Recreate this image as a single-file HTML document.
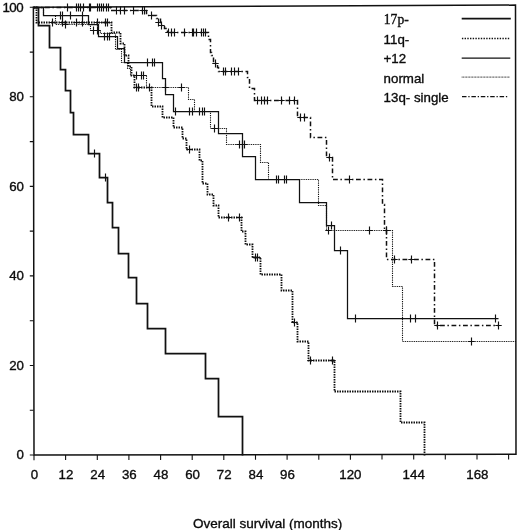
<!DOCTYPE html>
<html lang="en">
<head>
<meta charset="utf-8">
<title>Overall survival</title>
<style>
html,body{margin:0;padding:0;background:#fff;}
body{width:520px;height:530px;overflow:hidden;}
svg{display:block;}
text{font-family:"Liberation Sans",Arial,Helvetica,sans-serif;fill:#0c0c0c;stroke:#0c0c0c;stroke-width:0.35px;}
.ax text{font-size:13.3px;}
.ax text.ttl{font-size:13.5px;}
.lg text{font-size:13.3px;}
.lg text.serif{font-family:"Liberation Serif","Times New Roman",serif;font-size:13.6px;stroke-width:0.35px;}
</style>
</head>
<body>
<svg width="520" height="530" viewBox="0 0 520 530">
<rect x="0" y="0" width="520" height="530" fill="#ffffff"/>
<g fill="none" stroke="#111" stroke-linejoin="miter">
<!-- plot frame -->
<path d="M33.4,7.2 L515.5,5.1 L516,454.3 L34,455 Z" stroke-width="1.5"/>
<path d="M34.0,455.0v5.2M65.6,454.9v5.2M97.3,454.9v5.2M128.9,454.8v5.2M160.6,454.8v5.2M192.2,454.7v5.2M223.8,454.7v5.2M255.5,454.6v5.2M287.1,454.6v5.2M318.8,454.5v5.2M350.4,454.5v5.2M382.0,454.4v5.2M413.7,454.4v5.2M445.3,454.3v5.2M477.0,454.3v5.2M508.6,454.2v5.2" stroke-width="1.1"/>
<path d="M33.6,455.0h-3.8M33.6,410.2h-3.8M33.6,365.5h-3.8M33.6,320.7h-3.8M33.6,275.9h-3.8M33.6,231.1h-3.8M33.6,186.4h-3.8M33.6,141.6h-3.8M33.6,96.8h-3.8M33.6,52.1h-3.8M33.6,7.3h-3.8" stroke-width="1.1"/>
<!-- normal -->
<path d="M33.5,7.5 L43.5,7.5 L43.5,15.5 L55.5,15.5 L55.5,24.5 L90.5,24.5 L90.5,30.5 L100.5,30.5 L100.5,33.5 L115.5,33.5 L115.5,49.5 L121.5,49.5 L121.5,62.5 L127.5,62.5 L127.5,68.5 L130.5,68.5 L130.5,75.5 L146.5,75.5 L146.5,87.5 L188.5,87.5 L188.5,99.5 L194.5,99.5 L194.5,111.5 L210.5,111.5 L210.5,128.5 L226.5,128.5 L226.5,144.5 L260.5,144.5 L260.5,162.5 L268.5,162.5 L268.5,179.5 L318.5,179.5 L318.5,205.5 L326.5,205.5 L326.5,230.5 L392.5,230.5 L392.5,286.5 L402.5,286.5 L402.5,341.5 L516.5,341.5" stroke-width="1.1" stroke-dasharray="1 0.8" stroke="#111"/>
<path d="M65.5,20.5V28.5M93.5,26.5V34.5M97.5,26.5V34.5M136.5,71.5V79.5M141.5,71.5V79.5M143.5,71.5V79.5M165.5,83.5V91.5M181.5,83.5V91.5M214.5,124.5V132.5M239.5,140.5V148.5M242.5,140.5V148.5M244.5,140.5V148.5M328.5,226.5V234.5M369.5,226.5V234.5M386.5,226.5V234.5M471.5,337.5V345.5M62.3,24.5H68.7M90.3,30.5H96.7M94.3,30.5H100.7M133.3,75.5H139.7M138.3,75.5H144.7M140.3,75.5H146.7M162.3,87.5H168.7M178.3,87.5H184.7M211.3,128.5H217.7M236.3,144.5H242.7M239.3,144.5H245.7M241.3,144.5H247.7M325.3,230.5H331.7M366.3,230.5H372.7M383.3,230.5H389.7M468.3,341.5H474.7" stroke-width="1.15"/>
<!-- 13q- single -->
<path d="M33.5,7.5 L110.5,7.5 L110.5,10.5 L146.5,10.5 L146.5,15.5 L156.5,15.5 L156.5,18.5 L160.5,18.5 L160.5,25.5 L164.5,25.5 L164.5,28.5 L167.5,28.5 L167.5,32.5 L208.5,32.5 L208.5,39.5 L210.5,39.5 L210.5,52.5 L211.5,52.5 L211.5,55.5 L213.5,55.5 L213.5,63.5 L217.5,63.5 L217.5,67.5 L218.5,67.5 L218.5,71.5 L247.5,71.5 L247.5,77.5 L249.5,77.5 L249.5,88.5 L254.5,88.5 L254.5,100.5 L297.5,100.5 L297.5,117.5 L310.5,117.5 L310.5,137.5 L326.5,137.5 L326.5,157.5 L332.5,157.5 L332.5,179.5 L382.5,179.5 L382.5,204.5 L384.5,204.5 L384.5,230.5 L386.5,230.5 L386.5,259.5 L434.5,259.5 L434.5,325.5 L498.5,325.5" stroke-width="1.5" stroke-dasharray="4.8 2.6 1.5 2.6"/>
<path d="M67.5,3.5V11.5M76.5,3.5V11.5M78.5,3.5V11.5M80.5,3.5V11.5M83.5,3.5V11.5M89.5,3.5V11.5M90.5,3.5V11.5M97.5,3.5V11.5M99.5,3.5V11.5M101.5,3.5V11.5M103.5,3.5V11.5M106.5,3.5V11.5M108.5,3.5V11.5M116.5,6.5V14.5M120.5,6.5V14.5M124.5,6.5V14.5M133.5,6.5V14.5M142.5,6.5V14.5M144.5,6.5V14.5M151.5,11.5V19.5M158.5,18.5V26.5M161.5,21.5V29.5M168.5,28.5V36.5M171.5,28.5V36.5M174.5,28.5V36.5M184.5,28.5V36.5M192.5,28.5V36.5M193.5,28.5V36.5M196.5,28.5V36.5M201.5,28.5V36.5M203.5,28.5V36.5M205.5,28.5V36.5M215.5,59.5V67.5M223.5,67.5V75.5M225.5,67.5V75.5M231.5,67.5V75.5M234.5,67.5V75.5M238.5,67.5V75.5M257.5,96.5V104.5M261.5,96.5V104.5M264.5,96.5V104.5M267.5,96.5V104.5M281.5,96.5V104.5M289.5,96.5V104.5M294.5,96.5V104.5M300.5,113.5V121.5M304.5,113.5V121.5M329.5,153.5V161.5M349.5,175.5V183.5M386.5,226.5V234.5M394.5,255.5V263.5M411.5,255.5V263.5M437.5,321.5V329.5M498.5,321.5V329.5M64.3,7.5H70.7M73.3,7.5H79.7M75.3,7.5H81.7M77.3,7.5H83.7M80.3,7.5H86.7M86.3,7.5H92.7M87.3,7.5H93.7M94.3,7.5H100.7M96.3,7.5H102.7M98.3,7.5H104.7M100.3,7.5H106.7M103.3,7.5H109.7M105.3,7.5H111.7M113.3,10.5H119.7M117.3,10.5H123.7M121.3,10.5H127.7M130.3,10.5H136.7M139.3,10.5H145.7M141.3,10.5H147.7M148.3,15.5H154.7M155.3,22.5H161.7M158.3,25.5H164.7M165.3,32.5H171.7M168.3,32.5H174.7M171.3,32.5H177.7M181.3,32.5H187.7M189.3,32.5H195.7M190.3,32.5H196.7M193.3,32.5H199.7M198.3,32.5H204.7M200.3,32.5H206.7M202.3,32.5H208.7M212.3,63.5H218.7M220.3,71.5H226.7M222.3,71.5H228.7M228.3,71.5H234.7M231.3,71.5H237.7M235.3,71.5H241.7M254.3,100.5H260.7M258.3,100.5H264.7M261.3,100.5H267.7M264.3,100.5H270.7M278.3,100.5H284.7M286.3,100.5H292.7M291.3,100.5H297.7M297.3,117.5H303.7M301.3,117.5H307.7M326.3,157.5H332.7M346.3,179.5H352.7M383.3,230.5H389.7M391.3,259.5H397.7M408.3,259.5H414.7M434.3,325.5H440.7M495.3,325.5H501.7" stroke-width="1.15"/>
<!-- +12 -->
<path d="M33.5,7.5 L43.5,7.5 L43.5,15.5 L88.5,15.5 L88.5,24.5 L98.5,24.5 L98.5,36.5 L117.5,36.5 L117.5,48.5 L124.5,48.5 L124.5,62.5 L162.5,62.5 L162.5,78.5 L165.5,78.5 L165.5,94.5 L173.5,94.5 L173.5,111.5 L218.5,111.5 L218.5,133.5 L242.5,133.5 L242.5,156.5 L255.5,156.5 L255.5,179.5 L299.5,179.5 L299.5,202.5 L326.5,202.5 L326.5,225.5 L334.5,225.5 L334.5,250.5 L347.5,250.5 L347.5,318.5 L498.5,318.5" stroke-width="1.25"/>
<path d="M60.5,11.5V19.5M62.5,11.5V19.5M70.5,11.5V19.5M82.5,11.5V19.5M104.5,32.5V40.5M107.5,32.5V40.5M109.5,32.5V40.5M147.5,58.5V66.5M152.5,58.5V66.5M154.5,58.5V66.5M175.5,107.5V115.5M189.5,107.5V115.5M192.5,107.5V115.5M199.5,107.5V115.5M202.5,107.5V115.5M204.5,107.5V115.5M276.5,175.5V183.5M278.5,175.5V183.5M284.5,175.5V183.5M286.5,175.5V183.5M331.5,221.5V229.5M340.5,246.5V254.5M355.5,314.5V322.5M410.5,314.5V322.5M415.5,314.5V322.5M495.5,314.5V322.5" stroke-width="1.15"/>
<!-- 11q- -->
<path d="M33.5,7.5 L36.5,7.5 L36.5,22.5 L111.5,22.5 L111.5,22.5 L111.5,22.5 L111.5,32.5 L120.5,32.5 L120.5,43.5 L124.5,43.5 L124.5,55.5 L128.5,55.5 L128.5,66.5 L131.5,66.5 L131.5,75.5 L134.5,75.5 L134.5,87.5 L151.5,87.5 L151.5,106.5 L162.5,106.5 L162.5,117.5 L173.5,117.5 L173.5,127.5 L182.5,127.5 L182.5,138.5 L186.5,138.5 L186.5,149.5 L199.5,149.5 L199.5,160.5 L202.5,160.5 L202.5,183.5 L207.5,183.5 L207.5,194.5 L213.5,194.5 L213.5,205.5 L218.5,205.5 L218.5,217.5 L241.5,217.5 L241.5,231.5 L245.5,231.5 L245.5,244.5 L252.5,244.5 L252.5,257.5 L260.5,257.5 L260.5,274.5 L281.5,274.5 L281.5,290.5 L292.5,290.5 L292.5,322.5 L297.5,322.5 L297.5,341.5 L308.5,341.5 L308.5,360.5 L334.5,360.5 L334.5,391.5 L400.5,391.5 L400.5,422.5 L424.5,422.5 L424.5,455.5" stroke-width="1.8" stroke-dasharray="1.5 1.0"/>
<path d="M52.5,18.5V26.5M62.5,18.5V26.5M76.5,18.5V26.5M82.5,18.5V26.5M97.5,18.5V26.5M105.5,18.5V26.5M107.5,18.5V26.5M136.5,83.5V91.5M138.5,83.5V91.5M149.5,83.5V91.5M189.5,145.5V153.5M228.5,213.5V221.5M239.5,213.5V221.5M255.5,253.5V261.5M257.5,253.5V261.5M294.5,318.5V326.5M310.5,356.5V364.5M332.5,356.5V364.5M49.3,22.5H55.7M59.3,22.5H65.7M73.3,22.5H79.7M79.3,22.5H85.7M94.3,22.5H100.7M102.3,22.5H108.7M104.3,22.5H110.7M133.3,87.5H139.7M135.3,87.5H141.7M146.3,87.5H152.7M186.3,149.5H192.7M225.3,217.5H231.7M236.3,217.5H242.7M252.3,257.5H258.7M254.3,257.5H260.7M291.3,322.5H297.7M307.3,360.5H313.7M329.3,360.5H335.7" stroke-width="1.15"/>
<!-- 17p- -->
<path d="M33.5,7.5 L38.5,7.5 L38.5,25.5 L49.5,25.5 L49.5,47.5 L60.5,47.5 L60.5,69.5 L65.5,69.5 L65.5,90.5 L70.5,90.5 L70.5,112.5 L73.5,112.5 L73.5,134.5 L88.5,134.5 L88.5,153.5 L99.5,153.5 L99.5,177.5 L107.5,177.5 L107.5,202.5 L112.5,202.5 L112.5,227.5 L118.5,227.5 L118.5,253.5 L128.5,253.5 L128.5,277.5 L136.5,277.5 L136.5,303.5 L147.5,303.5 L147.5,328.5 L165.5,328.5 L165.5,353.5 L205.5,353.5 L205.5,378.5 L218.5,378.5 L218.5,416.5 L242.5,416.5 L242.5,455.5" stroke-width="1.75"/>
<path d="M94.5,149.5V157.5M105.5,173.5V181.5" stroke-width="1.15"/>
<!-- legend lines -->
<path d="M461.7,18.7H510.8" stroke-width="1.7"/>
<path d="M461.9,38.5H510" stroke-width="1.5" stroke-dasharray="1.4 1.3"/>
<path d="M461.7,58H510.3" stroke-width="1.25"/>
<path d="M461.7,77.1H510" stroke-width="1" stroke-dasharray="0.9 0.6" stroke="#222"/>
<path d="M462,96.6H508" stroke-width="1.1" stroke-dasharray="4.5 1.8 1.3 1.8"/>
</g>
<g class="ax"><text x="34.4" y="478.9" text-anchor="middle">0</text><text x="66.0" y="478.9" text-anchor="middle">12</text><text x="97.7" y="478.9" text-anchor="middle">24</text><text x="129.3" y="478.9" text-anchor="middle">36</text><text x="161.0" y="478.9" text-anchor="middle">48</text><text x="192.6" y="478.9" text-anchor="middle">60</text><text x="224.2" y="478.9" text-anchor="middle">72</text><text x="255.9" y="478.9" text-anchor="middle">84</text><text x="287.5" y="478.9" text-anchor="middle">96</text><text x="350.4" y="478.9" text-anchor="middle">120</text><text x="413.7" y="478.9" text-anchor="middle">144</text><text x="477.4" y="478.9" text-anchor="middle">168</text><text x="24" y="459.3" text-anchor="end">0</text><text x="24" y="369.8" text-anchor="end">20</text><text x="24" y="280.2" text-anchor="end">40</text><text x="24" y="190.7" text-anchor="end">60</text><text x="24" y="101.1" text-anchor="end">80</text><text x="23" y="11.5" text-anchor="end" letter-spacing="-0.55">100</text>
<text class="ttl" x="267.6" y="527.8" text-anchor="middle">Overall survival (months)</text>
</g>
<g class="lg">
<text x="383.8" y="24.4" class="serif">17p-</text>
<text x="383.6" y="43.5">11q-</text>
<text x="383.6" y="63.1">+12</text>
<text x="383.6" y="82.5">normal</text>
<text x="383.6" y="102.1">13q- single</text>
</g>
</svg>
</body>
</html>
